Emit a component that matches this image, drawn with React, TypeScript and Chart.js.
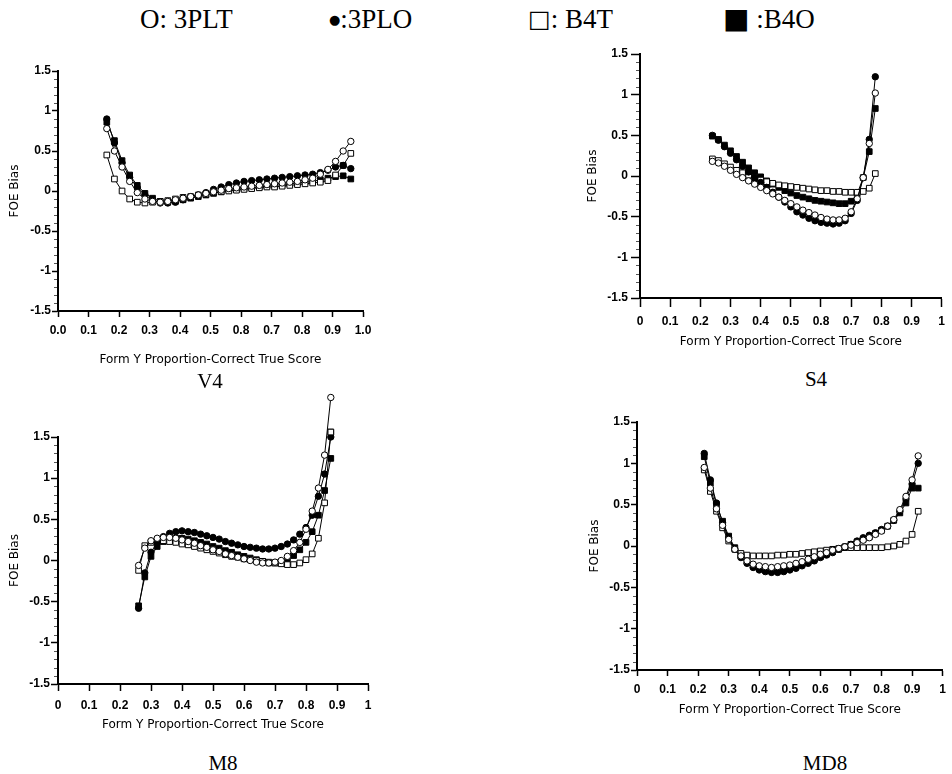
import React, { useEffect, useRef } from 'react';
import { Chart, registerables } from 'chart.js';

Chart.register(...registerables);

// ---------------- data ----------------
const LEGEND_SYMBOLS = ['O', '\u25CF', '\u25A1', '\u25A0'];
const LEGEND_TEXTS = [': 3PLT', ':3PLO', ': B4T', ' :B4O'];
const SERIES_NAMES = ['3PLT', '3PLO', 'B4T', 'B4O'];
const PANEL_NAMES = ['V4', 'S4', 'M8', 'MD8'];
const X_TITLE = 'Form Y Proportion-Correct True Score';
const Y_TITLE = 'FOE Bias';
const Y_TICKS = ['-1.5', '-1', '-0.5', '0', '0.5', '1', '1.5'];
const X_TICKS_V4 = ['0.0', '0.1', '0.2', '0.3', '0.4', '0.5', '0.8', '0.7', '0.8', '0.9', '1.0'];
const X_TICKS_S4 = ['0', '0.1', '0.2', '0.3', '0.4', '0.5', '0.8', '0.7', '0.8', '0.9', '1'];
const X_TICKS_M8 = ['0', '0.1', '0.2', '0.3', '0.4', '0.5', '0.6', '0.7', '0.8', '0.9', '1'];
const X_TICKS_MD8 = ['0', '0.1', '0.2', '0.3', '0.4', '0.5', '0.6', '0.7', '0.8', '0.9', '1'];

// V4
const V4_X = [0.16, 0.185, 0.21, 0.235, 0.26, 0.285, 0.31, 0.335, 0.36, 0.385, 0.41, 0.435, 0.46, 0.485, 0.51, 0.535, 0.56, 0.585, 0.61, 0.635, 0.66, 0.685, 0.71, 0.735, 0.76, 0.785, 0.81, 0.835, 0.86, 0.885, 0.91, 0.935, 0.96];
const V4_3PLT = [0.78, 0.5, 0.3, 0.12, -0.02, -0.1, -0.13, -0.14, -0.13, -0.11, -0.09, -0.07, -0.05, -0.03, -0.01, 0.01, 0.03, 0.04, 0.05, 0.06, 0.07, 0.08, 0.09, 0.1, 0.11, 0.12, 0.14, 0.16, 0.21, 0.27, 0.37, 0.5, 0.62];
const V4_3PLO = [0.9, 0.6, 0.35, 0.17, 0.04, -0.05, -0.11, -0.15, -0.15, -0.14, -0.11, -0.08, -0.05, -0.02, 0.02, 0.05, 0.08, 0.1, 0.12, 0.13, 0.14, 0.15, 0.16, 0.17, 0.18, 0.19, 0.2, 0.21, 0.23, 0.26, 0.3, 0.32, 0.28];
const V4_B4T = [0.45, 0.15, 0.0, -0.1, -0.14, -0.15, -0.14, -0.13, -0.12, -0.1, -0.08, -0.07, -0.05, -0.04, -0.02, -0.01, 0.0, 0.01, 0.02, 0.03, 0.04, 0.05, 0.05, 0.06, 0.07, 0.08, 0.09, 0.1, 0.11, 0.13, 0.2, 0.32, 0.47];
const V4_B4O = [0.86, 0.63, 0.38, 0.2, 0.07, -0.03, -0.09, -0.13, -0.14, -0.13, -0.11, -0.09, -0.07, -0.05, -0.03, -0.01, 0.01, 0.02, 0.03, 0.04, 0.05, 0.06, 0.07, 0.08, 0.09, 0.1, 0.11, 0.12, 0.14, 0.16, 0.18, 0.19, 0.15];

// S4
const S4_X = [0.24, 0.26, 0.28, 0.3, 0.32, 0.34, 0.36, 0.38, 0.4, 0.42, 0.44, 0.46, 0.48, 0.5, 0.52, 0.54, 0.56, 0.58, 0.6, 0.62, 0.64, 0.66, 0.68, 0.7, 0.72, 0.74, 0.76, 0.78];
const S4_3PLT = [0.18, 0.16, 0.12, 0.07, 0.02, -0.02, -0.06, -0.1, -0.14, -0.18, -0.22, -0.26, -0.3, -0.34, -0.38, -0.42, -0.45, -0.48, -0.51, -0.53, -0.54, -0.54, -0.52, -0.44, -0.28, -0.02, 0.4, 1.02];
const S4_3PLO = [0.5, 0.44, 0.36, 0.28, 0.2, 0.12, 0.05, -0.02, -0.08, -0.14, -0.2, -0.26, -0.32, -0.38, -0.44, -0.48, -0.52, -0.55, -0.57, -0.58, -0.59, -0.58, -0.55, -0.46, -0.3, -0.02, 0.45, 1.22];
const S4_B4T = [0.21, 0.19, 0.15, 0.11, 0.07, 0.04, 0.01, -0.02, -0.05, -0.07, -0.09, -0.11, -0.12, -0.13, -0.14, -0.15, -0.16, -0.17, -0.18, -0.18, -0.19, -0.19, -0.2, -0.2, -0.2, -0.19, -0.15, 0.03];
const S4_B4O = [0.49, 0.45, 0.38, 0.31, 0.24, 0.17, 0.1, 0.04, -0.01, -0.06, -0.1, -0.14, -0.18, -0.21, -0.24, -0.26, -0.28, -0.3, -0.31, -0.32, -0.33, -0.34, -0.34, -0.31, -0.22, -0.02, 0.3, 0.83];

// M8
const M8_X = [0.26, 0.28, 0.3, 0.32, 0.34, 0.36, 0.38, 0.4, 0.42, 0.44, 0.46, 0.48, 0.5, 0.52, 0.54, 0.56, 0.58, 0.6, 0.62, 0.64, 0.66, 0.68, 0.7, 0.72, 0.74, 0.76, 0.78, 0.8, 0.82, 0.84, 0.86, 0.88];
const M8_3PLT = [-0.06, 0.15, 0.24, 0.27, 0.28, 0.28, 0.27, 0.25, 0.23, 0.21, 0.18, 0.16, 0.13, 0.11, 0.08, 0.06, 0.04, 0.02, 0.0, -0.02, -0.03, -0.03, -0.02, 0.0, 0.05, 0.12, 0.22, 0.38, 0.6, 0.88, 1.28, 1.98];
const M8_3PLO = [-0.58, -0.15, 0.1, 0.22, 0.29, 0.33, 0.35, 0.36, 0.35, 0.34, 0.32, 0.3, 0.28, 0.26, 0.23, 0.21, 0.19, 0.17, 0.16, 0.15, 0.14, 0.14, 0.15, 0.17, 0.2, 0.25, 0.32, 0.4, 0.55, 0.78, 1.05, 1.5];
const M8_B4T = [-0.12, 0.18, 0.22, 0.24, 0.24, 0.23, 0.22, 0.2, 0.19, 0.17, 0.15, 0.13, 0.11, 0.09, 0.07, 0.05, 0.04, 0.02, 0.01, 0.0, -0.01, -0.02, -0.03, -0.04, -0.05, -0.05, -0.03, 0.01, 0.08, 0.27, 0.7, 1.56];
const M8_B4O = [-0.55, -0.2, 0.05, 0.17, 0.23, 0.26, 0.27, 0.27, 0.26, 0.24, 0.22, 0.2, 0.17, 0.15, 0.12, 0.1, 0.07, 0.05, 0.03, 0.01, -0.01, -0.03, -0.03, -0.02, 0.01, 0.06, 0.13, 0.22, 0.35, 0.55, 0.85, 1.24];

// MD8
const MD8_X = [0.22, 0.24, 0.26, 0.28, 0.3, 0.32, 0.34, 0.36, 0.38, 0.4, 0.42, 0.44, 0.46, 0.48, 0.5, 0.52, 0.54, 0.56, 0.58, 0.6, 0.62, 0.64, 0.66, 0.68, 0.7, 0.72, 0.74, 0.76, 0.78, 0.8, 0.82, 0.84, 0.86, 0.88, 0.9, 0.92];
const MD8_3PLT = [0.95, 0.7, 0.45, 0.25, 0.08, -0.04, -0.12, -0.18, -0.22, -0.24, -0.25, -0.26, -0.25, -0.24, -0.23, -0.21, -0.19, -0.16, -0.13, -0.1, -0.08, -0.05, -0.03, -0.01, 0.01, 0.04, 0.07, 0.1, 0.14, 0.18, 0.24, 0.32, 0.44, 0.6, 0.8, 1.09];
const MD8_3PLO = [1.12, 0.8, 0.52, 0.28, 0.1, -0.04, -0.14, -0.21, -0.26, -0.29, -0.31, -0.32, -0.32, -0.31, -0.29, -0.27, -0.24, -0.21, -0.18, -0.14, -0.11, -0.08, -0.04, -0.01, 0.02, 0.06, 0.1, 0.13, 0.16, 0.2, 0.24, 0.31, 0.42, 0.57, 0.75, 1.0];
const MD8_B4T = [0.92, 0.66, 0.42, 0.22, 0.06, -0.04, -0.09, -0.11, -0.12, -0.12, -0.12, -0.12, -0.11, -0.11, -0.1, -0.1, -0.09, -0.08, -0.07, -0.06, -0.05, -0.04, -0.03, -0.02, -0.02, -0.02, -0.02, -0.02, -0.02, -0.02, -0.01, 0.0, 0.02, 0.06, 0.14, 0.42];
const MD8_B4O = [1.08, 0.76, 0.5, 0.3, 0.12, -0.02, -0.12, -0.19, -0.24, -0.27, -0.29, -0.3, -0.3, -0.29, -0.27, -0.25, -0.22, -0.19, -0.16, -0.13, -0.1, -0.07, -0.04, -0.01, 0.02, 0.05, 0.08, 0.11, 0.15, 0.19, 0.24, 0.31, 0.4, 0.52, 0.7, 0.7];

// ---------------- layout / style ----------------
type Rect = { l: number; t: number; r: number; b: number };
type Spec = {
  name: string;
  xs: number[];
  ys: number[][];
  xTicks: string[];
  box: Rect;
  area: Rect;
  tickLen: number;
  xPad: number;
  yPad: number;
  caption: { x: number; y: number };
};

const SPECS: Spec[] = [
  {
    name: PANEL_NAMES[0], xs: V4_X, ys: [V4_3PLT, V4_3PLO, V4_B4T, V4_B4O], xTicks: X_TICKS_V4,
    box: { l: 0, t: 50, r: 385, b: 371 }, area: { l: 58, t: 71, r: 363, b: 311 },
    tickLen: 6, xPad: 6, yPad: 1, caption: { x: 210, y: 381 },
  },
  {
    name: PANEL_NAMES[1], xs: S4_X, ys: [S4_3PLT, S4_3PLO, S4_B4T, S4_B4O], xTicks: X_TICKS_S4,
    box: { l: 578, t: 35, r: 952, b: 353 }, area: { l: 640, t: 54, r: 946, b: 298 },
    tickLen: 9, xPad: 7, yPad: 3, caption: { x: 816, y: 379 },
  },
  {
    name: PANEL_NAMES[2], xs: M8_X, ys: [M8_3PLT, M8_3PLO, M8_B4T, M8_B4O], xTicks: X_TICKS_M8,
    box: { l: 0, t: 385, r: 390, b: 736 }, area: { l: 58, t: 437, r: 368, b: 684 },
    tickLen: 7, xPad: 7, yPad: 1, caption: { x: 223, y: 763 },
  },
  {
    name: PANEL_NAMES[3], xs: MD8_X, ys: [MD8_3PLT, MD8_3PLO, MD8_B4T, MD8_B4O], xTicks: X_TICKS_MD8,
    box: { l: 580, t: 405, r: 952, b: 721 }, area: { l: 637, t: 422, r: 946, b: 670 },
    tickLen: 6, xPad: 6, yPad: 1, caption: { x: 825, y: 763 },
  },
];

// marker style per series: 3PLT open circle, 3PLO filled circle, B4T open square, B4O filled square
const MARKERS = [
  { style: 'circle', fill: '#ffffff', r: 3.2 },
  { style: 'circle', fill: '#000000', r: 3.2 },
  { style: 'rect', fill: '#ffffff', r: 4 },
  { style: 'rect', fill: '#000000', r: 4 },
];

const TICK_FONT = { family: "'Liberation Sans', Arial, sans-serif", size: 12, weight: 'bold' as const };
const TITLE_FONT = { family: "'DejaVu Sans', sans-serif", size: 12 };
const SERIF = "'Liberation Serif', 'Times New Roman', serif";
const LEGEND_X = [140, 329, 528, 723];
const LEGEND_SYMBOL_SIZE = [27, 13, 24, 28];

const minorTicks = {
  id: 'minorTicks',
  afterDraw(chart: any) {
    const y = chart.scales.y;
    const ctx = chart.ctx;
    const x0 = chart.chartArea.left;
    ctx.save();
    ctx.strokeStyle = '#555';
    ctx.lineWidth = 1;
    for (let k = -15; k <= 15; k++) {
      if (k % 5 === 0) continue;
      const py = Math.round(y.getPixelForValue(k / 10)) + 0.5;
      ctx.beginPath();
      ctx.moveTo(x0 - 4, py);
      ctx.lineTo(x0 - 1, py);
      ctx.stroke();
    }
    ctx.restore();
  },
};

// Chart.js skips point markers that fall outside the chart area; the reference
// draws them past the top of the axis, so draw those library elements too.
const outsidePoints = {
  id: 'outsidePoints',
  afterDatasetsDraw(chart: any) {
    const a = chart.chartArea;
    const ctx = chart.ctx;
    chart.data.datasets.forEach((_d: any, i: number) => {
      const meta = chart.getDatasetMeta(i);
      meta.data.forEach((el: any) => {
        if (el.y < a.top - 2 || el.y > a.bottom + 2) el.draw(ctx);
      });
    });
  },
};

function makeConfig(s: Spec): any {
  const { box, area } = s;
  const datasets = s.ys.map((vals, i) => ({
    label: SERIES_NAMES[i],
    data: s.xs.map((x, j) => ({ x, y: vals[j] })),
    showLine: true,
    clip: false,
    borderColor: '#000',
    borderWidth: 1,
    backgroundColor: MARKERS[i].fill,
    pointStyle: MARKERS[i].style,
    pointRadius: MARKERS[i].r,
    pointBorderWidth: 1,
    pointBorderColor: '#000',
    pointBackgroundColor: MARKERS[i].fill,
    fill: false,
    tension: 0,
  }));
  return {
    type: 'scatter',
    data: { datasets },
    options: {
      animation: false,
      responsive: false,
      maintainAspectRatio: false,
      devicePixelRatio: 1,
      events: [],
      layout: { padding: { left: 0, top: area.t - box.t, right: box.r - area.r, bottom: 0 } },
      plugins: { legend: { display: false }, tooltip: { enabled: false }, title: { display: false } },
      scales: {
        x: {
          type: 'linear',
          position: 'bottom',
          min: 0,
          max: 1,
          afterFit: (sc: any) => { sc.height = box.b - area.b; },
          ticks: {
            stepSize: 0.1, autoSkip: false, maxRotation: 0, minRotation: 0,
            padding: s.xPad, color: '#000', font: TICK_FONT,
            callback: (_v: any, i: number) => s.xTicks[i],
          },
          grid: { display: true, drawOnChartArea: false, drawTicks: true, tickLength: s.tickLen, tickColor: '#000', tickWidth: 1.5 },
          border: { display: true, color: '#000', width: 2 },
          title: { display: true, text: X_TITLE, color: '#000', font: TITLE_FONT, padding: { top: 0, bottom: 4 } },
        },
        y: {
          type: 'linear',
          position: 'left',
          min: -1.5,
          max: 1.5,
          afterFit: (sc: any) => { sc.width = area.l - box.l; },
          ticks: {
            stepSize: 0.5, padding: s.yPad, color: '#000', font: TICK_FONT,
            callback: (_v: any, i: number) => Y_TICKS[i],
          },
          grid: { display: true, drawOnChartArea: false, drawTicks: true, tickLength: s.tickLen, tickColor: '#000', tickWidth: 1.5 },
          border: { display: true, color: '#000', width: 2 },
          title: { display: true, text: Y_TITLE, color: '#000', font: TITLE_FONT, padding: { top: 8, bottom: 0 } },
        },
      },
    },
    plugins: [minorTicks, outsidePoints],
  };
}

function Panel({ spec }: { spec: Spec }) {
  const ref = useRef<HTMLCanvasElement>(null);
  useEffect(() => {
    const chart = new Chart(ref.current as HTMLCanvasElement, makeConfig(spec));
    return () => chart.destroy();
  }, [spec]);
  const w = spec.box.r - spec.box.l;
  const h = spec.box.b - spec.box.t;
  return (
    <>
      <canvas
        ref={ref}
        width={w}
        height={h}
        style={{ position: 'absolute', left: spec.box.l, top: spec.box.t, width: w, height: h }}
      />
      <div
        style={{
          position: 'absolute', left: spec.caption.x, top: spec.caption.y,
          transform: 'translate(-50%, -50%)', fontFamily: SERIF, fontSize: 21, lineHeight: 1,
          color: '#000', whiteSpace: 'nowrap',
        }}
      >
        {spec.name}
      </div>
    </>
  );
}

export default function App() {
  return (
    <div style={{ position: 'absolute', left: 0, top: 0, width: 952, height: 774, background: '#fff', overflow: 'hidden' }}>
      {LEGEND_TEXTS.map((t, i) => (
        <div
          key={t}
          style={{
            position: 'absolute', left: LEGEND_X[i], top: 4, height: 30,
            display: 'flex', alignItems: 'center',
            fontFamily: SERIF, fontSize: 27, lineHeight: 1, color: '#000', whiteSpace: 'pre',
          }}
        >
          <span style={{ fontSize: LEGEND_SYMBOL_SIZE[i], fontFamily: i === 0 ? SERIF : "'DejaVu Sans', sans-serif" }}>
            {LEGEND_SYMBOLS[i]}
          </span>
          <span style={{ whiteSpace: 'pre' }}>{t}</span>
        </div>
      ))}
      {SPECS.map((s) => (
        <Panel key={s.name} spec={s} />
      ))}
    </div>
  );
}
